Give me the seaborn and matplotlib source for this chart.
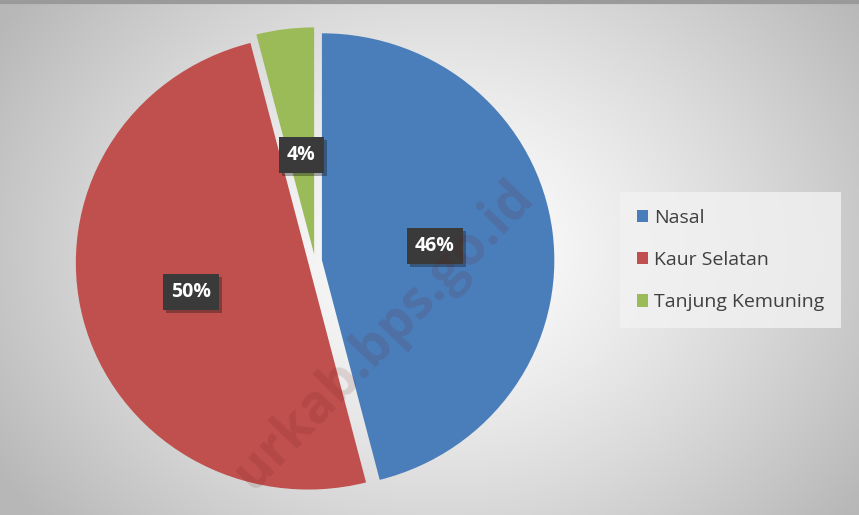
import numpy as np
import matplotlib
matplotlib.use("Agg")
import matplotlib.pyplot as plt
import matplotlib.patheffects as pe
import seaborn as sns

categories = ["Nasal", "Kaur Selatan", "Tanjung Kemuning"]
values = [46, 50, 4]
labels_pct = ["46%", "50%", "4%"]
colors = ["#4a7ebb", "#c0504d", "#9bbb59"]

sns.set_theme(style="white")
plt.rcParams['font.family'] = ['Open Sans', 'DejaVu Sans']

W, H = 859, 515
fig = plt.figure(figsize=(W / 100, H / 100), dpi=100)

# radial gradient background
bg = fig.add_axes([0, 0, 1, 1])
yy, xx = np.mgrid[0:H, 0:W]
cx, cy = 440, 250
d = np.sqrt(((xx - cx) / 520.0) ** 2 + ((yy - cy) / 420.0) ** 2)
d = np.clip(d, 0, 1)
lo, hi = 1.0, 0.72
g = hi + (lo - hi) * (1 - d ** 1.3)
img = np.dstack([g, g, g])
bg.imshow(img, extent=[0, W, H, 0], aspect='auto', interpolation='bilinear')
bg.set_xlim(0, W)
bg.set_ylim(H, 0)
bg.axis('off')
bg.plot([0, W], [1.5, 1.5], color="#9a9a9a", lw=3)

# pie axes
cxp, cyp = 315, 515 - 261
aw, ah = 502, 490
ax = fig.add_axes([(cxp - aw / 2) / W, (cyp - ah / 2) / H, aw / W, ah / H])
ax.patch.set_alpha(0)
wedges, _ = ax.pie(values, colors=colors, startangle=90, counterclock=False,
                   explode=[0.03, 0.03, 0.03],
                   wedgeprops=dict(edgecolor='none'))
ax.set_aspect('auto')
ax.set_xlim(-1.08, 1.08)
ax.set_ylim(-1.08, 1.08)
ax.axis('off')

# data labels
start = 90.0
total = sum(values)
radii = [0.52, 0.55, 0.47]
for w, v, lab, r in zip(wedges, values, labels_pct, radii):
    ang = start - 360.0 * v / total / 2
    start -= 360.0 * v / total
    x, y = r * np.cos(np.radians(ang)), r * np.sin(np.radians(ang))
    ax.text(x, y, lab, color='white', fontsize=14, fontweight='bold',
            ha='center', va='center',
            bbox=dict(boxstyle='square,pad=0.42', facecolor='#3a3a3a', edgecolor='none',
                      path_effects=[pe.withSimplePatchShadow(offset=(2, -2), alpha=0.35)]))

# legend
leg = fig.legend(wedges, categories, loc='center left',
                 bbox_to_anchor=(620 / W, 1 - 260 / H),
                 frameon=True, fancybox=False, fontsize=14,
                 handlelength=0.6, handleheight=0.6, handletextpad=0.3,
                 labelspacing=1.25, borderpad=0.85, borderaxespad=0)
leg.get_frame().set_facecolor('#f2f2f2')
leg.get_frame().set_edgecolor('none')
leg.get_frame().set_alpha(0.8)
for t in leg.get_texts():
    t.set_color('#404040')

# watermark on top
fig.text(384 / W, 1 - 335 / H, "urkab.bps.go.id", rotation=46, fontsize=38,
         fontweight='bold', color="#6a1a1a", alpha=0.14, ha='center', va='center',
         rotation_mode='anchor', zorder=20)

fig.savefig("out.png", dpi=100)
